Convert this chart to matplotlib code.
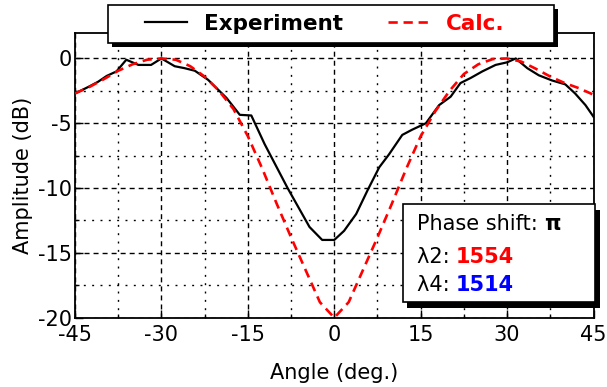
import numpy as np
import matplotlib
matplotlib.use('Agg')
import matplotlib.pyplot as plt
from matplotlib.patches import Rectangle
from matplotlib.ticker import MultipleLocator

# data
EXP_ANGLE = [-45, -42.7, -41, -39.5, -37.8, -36.1, -34, -31.8, -30, -27.7, -26, -24.2,
             -21.9, -18.7, -16.4, -14.4, -12.1, -8.1, -4.3, -2.1, 0, 1.7, 3.8, 5.8,
             7.8, 9.5, 11.8, 13.5, 15.9, 18.2, 20.2, 21.9, 23.7, 25.7, 28, 30, 31.5,
             33.5, 35.5, 37.8, 40.1, 41.8, 43.6, 45]
EXP_DB = [-2.7, -2.2, -1.8, -1.35, -1.0, -0.1, -0.5, -0.5, 0, -0.6, -0.75, -0.95,
          -1.65, -3.05, -4.35, -4.4, -6.6, -10.0, -13.0, -14.0, -14.0, -13.3, -12.0, -10.15,
          -8.4, -7.4, -5.9, -5.5, -5.0, -3.6, -2.95, -1.9, -1.5, -1.0, -0.5, -0.3, 0,
          -0.75, -1.3, -1.7, -2.0, -2.7, -3.6, -4.5]

CALC_ANGLE = [-45, -42.5, -40, -37.5, -35, -32.5, -30, -27.5, -25, -22.5, -20, -17.5,
              -15, -12.5, -10, -7.5, -5, -2.5, 0, 2.5, 5, 7.5, 10, 12.5, 15, 17.5,
              20, 22.5, 25, 27.5, 30, 32.5, 35, 37.5, 40, 42.5, 45]
CALC_DB = [-2.7, -2.2, -1.6, -0.95, -0.45, -0.1, 0, -0.1, -0.6, -1.4, -2.5, -3.9,
           -6.0, -8.5, -11.2, -13.8, -16.3, -18.8, -20, -18.8, -16.3, -13.8, -11.2, -8.5,
           -6.0, -4.1, -2.5, -1.2, -0.45, -0.05, 0, -0.25, -0.8, -1.4, -1.9, -2.3, -2.8]

X_TICKS = [-45, -30, -15, 0, 15, 30, 45]
Y_TICKS = [-20, -15, -10, -5, 0]

plt.rcParams['font.family'] = ['DejaVu Sans']
FS = 15
W, H = 607, 387

fig = plt.figure(figsize=(W / 100, H / 100), dpi=100)
ax = fig.add_axes([0.1236, 0.179, 0.9778 - 0.1236, 0.916 - 0.179])

ax.plot(EXP_ANGLE, EXP_DB, color='black', lw=1.6, label='Experiment', zorder=3)
ax.plot(CALC_ANGLE, CALC_DB, color='red', lw=1.9, ls=(0, (3.5, 2.2)), label='Calc.', zorder=4)

ax.set_xlim(-45, 45)
ax.set_ylim(-20, 2)
ax.set_xticks(X_TICKS)
ax.set_yticks(Y_TICKS)
ax.set_xticklabels([str(t) for t in X_TICKS])
ax.set_yticklabels([str(t) for t in Y_TICKS])
ax.xaxis.set_minor_locator(MultipleLocator(7.5))
ax.yaxis.set_minor_locator(MultipleLocator(2.5))
ax.tick_params(which='both', direction='in', labelsize=FS, width=1, color='black')
ax.tick_params(which='major', length=6)
ax.tick_params(axis='x', which='major', pad=5)
ax.tick_params(axis='y', which='major', pad=2)
ax.tick_params(which='minor', length=3)

ax.grid(which='major', color='black', lw=1, ls=(0, (3.6, 2.9)))
ax.grid(which='minor', color='black', lw=1, ls=(0, (1.4, 4.6)))
for s in ax.spines.values():
    s.set_linewidth(1.3)

ax.set_xlabel('Angle (deg.)', fontsize=FS, labelpad=13)
ax.set_ylabel('Amplitude (dB)', fontsize=FS, labelpad=4)

# legend: frameless entries, box and hard shadow drawn by hand
leg = ax.legend(loc='center', bbox_to_anchor=(0.5354, 0.938), bbox_transform=fig.transFigure,
                ncol=2, frameon=False, handlelength=1.95, handletextpad=0.75,
                columnspacing=2.1, prop={'size': 15.5, 'weight': 'bold'})
leg.set_zorder(12)
leg.get_texts()[1].set_color('red')

lx0, lx1, ly0, ly1 = 108.3 / W, 554 / W, 1 - 43 / H, 1 - 5 / H
ax.add_patch(Rectangle((lx0 + 4 / W, ly0 - 4 / H), lx1 - lx0, ly1 - ly0, transform=fig.transFigure,
                       facecolor='black', edgecolor='none', clip_on=False, zorder=10))
ax.add_patch(Rectangle((lx0, ly0), lx1 - lx0, ly1 - ly0, transform=fig.transFigure,
                       facecolor='white', edgecolor='black', lw=1.2, clip_on=False, zorder=11))

# info box
bx0, by0, bx1, by1 = 0.632, 0.056, 1.003, 0.399
ax.add_patch(Rectangle((bx0 + 0.009, by0 - 0.021), bx1 - bx0, by1 - by0, transform=ax.transAxes,
                       facecolor='black', edgecolor='none', clip_on=False, zorder=11))
ax.add_patch(Rectangle((bx0, by0), bx1 - bx0, by1 - by0, transform=ax.transAxes,
                       facecolor='white', edgecolor='black', lw=1.2, clip_on=False, zorder=12))

tx = 0.659
lines = [(0.3075, 'Phase shift: ', '\u03c0', 'black'),
         (0.1907, '\u03bb2: ', '1554', 'red'),
         (0.0947, '\u03bb4: ', '1514', 'blue')]
for y, lab, val, col in lines:
    t = ax.text(tx, y, lab, transform=ax.transAxes, fontsize=FS, va='baseline', zorder=13)
    ax.annotate(val, xy=(1, 0), xycoords=t, va='bottom', ha='left', fontsize=FS,
                fontweight='bold', color=col, zorder=13)

fig.savefig('out.png', dpi=100)
